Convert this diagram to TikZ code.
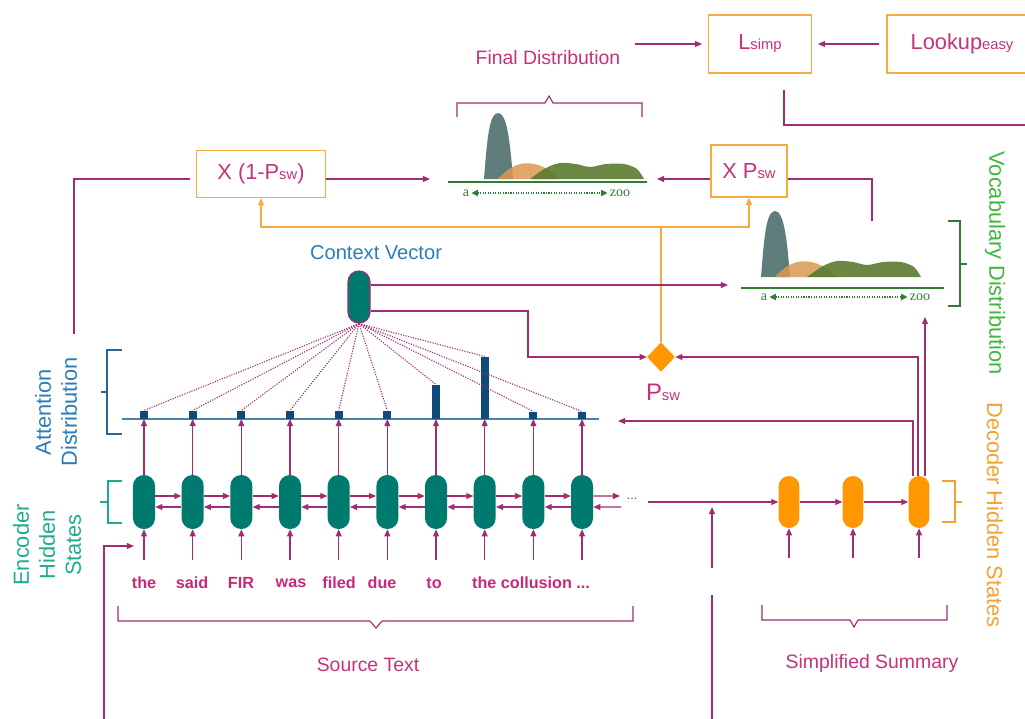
\documentclass[tikz,border=0pt]{standalone}
\usepackage{fontspec}
\setmainfont{Liberation Sans}
\newfontfamily\axisfont{Liberation Serif}
\usetikzlibrary{arrows.meta,shapes.geometric,positioning}

\definecolor{magline}{RGB}{160,45,112}
\definecolor{magtext}{RGB}{196,50,122}
\definecolor{wordmag}{RGB}{200,40,120}
\definecolor{oborder}{RGB}{247,170,62}
\definecolor{ofill}{RGB}{255,152,0}
\definecolor{encteal}{RGB}{0,122,110}
\definecolor{barnavy}{RGB}{14,74,122}
\definecolor{attline}{RGB}{74,130,165}
\definecolor{brblue}{RGB}{45,100,150}
\definecolor{lblblue}{RGB}{42,125,185}
\definecolor{lblteal}{RGB}{30,172,140}
\definecolor{lblgreen}{RGB}{62,182,62}
\definecolor{lblorange}{RGB}{247,160,50}
\definecolor{axgreen}{RGB}{46,125,50}
\definecolor{peakgrey}{RGB}{95,125,122}
\definecolor{humporange}{RGB}{218,152,80}
\definecolor{humpgreen}{RGB}{90,122,48}

\newcommand\subsw[1]{{\fontsize{10.5}{12}\selectfont #1}}

\begin{document}
\begin{tikzpicture}[x=0.025cm,y=-0.025cm,
  link/.style={magline,line width=0.8pt},
  arr/.style={link,-{Triangle[length=5pt,width=4.2pt]}},
  oarr/.style={oborder,line width=0.8pt,-{Triangle[length=5pt,width=4.2pt]}},
  obox/.style={draw=oborder,line width=1.1pt,text=magtext,inner sep=0pt,font=\fontsize{15.5}{18}\selectfont},
  enc/.style={fill=encteal,rounded corners=0.27cm,minimum width=0.55cm,minimum height=1.35cm,inner sep=0pt},
  dec/.style={fill=ofill,rounded corners=0.26cm,minimum width=0.52cm,minimum height=1.3cm,inner sep=0pt},
  attbar/.style={fill=barnavy,minimum width=0.2cm,inner sep=0pt,anchor=south},
  word/.style={text=wordmag,font=\bfseries\fontsize{11.5}{13}\selectfont},
  lbl/.style={text=magtext,font=\fontsize{13.8}{16}\selectfont},
  side/.style={font=\fontsize{15.5}{18.5}\selectfont,align=center},
  axlbl/.style={text=axgreen,font=\axisfont\fontsize{10}{11}\selectfont,inner sep=1.5pt},
  axarr/.style={axgreen,densely dotted,line width=0.8pt,{Triangle[length=4.5pt,width=4.5pt]}-{Triangle[length=4.5pt,width=4.5pt]}}]
  \useasboundingbox (0,0) rectangle (1025,718);
  \clip (0,0) rectangle (1025,718);

  \node[obox,minimum width=2.575cm,minimum height=1.45cm] (lsimp) at (760,44) {L\subsw{simp}};
  \node[obox,minimum width=3.75cm,minimum height=1.45cm] (lookup) at (962,44) {Lookup\subsw{easy}};
  \node[lbl] (fdtext) at (548,58) {Final Distribution};
  \draw[arr,shorten <=7pt,shorten >=4pt] (fdtext.east |- lsimp) -- (lsimp.west);
  \draw[arr,shorten <=5pt,shorten >=4pt] (lookup.west) -- (lsimp.east);
  \coordinate (rtend) at (1030,125);
  \draw[link] ([xshift=0.6cm,yshift=-0.4cm]lsimp.south) |- (rtend);

  \draw[link] (457,117) -- (457,103) -- (545,103) -- (549,96) -- (553,103) -- (642,103) -- (642,117);
  \foreach \ox/\oy in {484/179,761/277} {
    \begin{scope}[shift={(\ox,\oy)}]
      \fill[peakgrey] (0,0) .. controls (3,-38) and (5,-66) .. (14,-66) .. controls (23,-66) and (26,-38) .. (29,0) -- cycle;
      \fill[humporange,opacity=0.85] (14,0) .. controls (32,-21) and (54,-21) .. (76,0) -- cycle;
      \fill[humpgreen,opacity=0.9] plot[smooth] coordinates {(46,0) (62,-11) (76,-16) (92,-15) (106,-12) (122,-15) (140,-15) (153,-10) (160,0)} -- cycle;
    \end{scope}
  }
  \draw[axgreen,line width=1pt] (448,182) -- (647,182);
  \node[axlbl] (fa) at (466,193) {a};
  \node[axlbl] (fz) at (620,193) {zoo};
  \draw[axarr] (fa) -- (fz);
  \draw[axgreen,line width=1pt] (741,288) -- (944,288);
  \node[axlbl] (va) at (764,297) {a};
  \node[axlbl] (vz) at (920,297) {zoo};
  \draw[axarr] (va) -- (vz);
  \draw[axgreen,line width=0.9pt] (948,221) -- (960,221) -- (960,306) -- (948,306) (960,264) -- (967,264);

  \node[obox,minimum width=3.225cm,minimum height=1.175cm] (xone) at (261,174) {X (1-P\subsw{sw})};
  \node[obox,minimum width=1.9cm,minimum height=1.3cm] (xpsw) at (749,171) {X P\subsw{sw}};
  \coordinate (fdl) at (430,179);
  \coordinate (fdr) at (657,179);
  \coordinate (leftlow) at (74,334);
  \coordinate (vtop) at (872,221);
  \draw[link,shorten >=4pt] (leftlow) |- (xone.west |- fdl);
  \draw[arr] (xone.east |- fdl) -- (fdl);
  \draw[arr] (xpsw.west |- fdr) -- (fdr);
  \draw[link] (vtop) |- (xpsw.east |- fdl);

  \node[diamond,fill=ofill,inner sep=0pt,minimum width=0.7cm,minimum height=0.74cm] (psw) at (661,357) {};
  \node[text=magtext,font=\fontsize{17}{19}\selectfont] (pswlab) at (663,392) {P\subsw{sw}};
  \coordinate (orj) at (661,227);
  \draw[oarr] (psw.north) -- (orj) -| (xone.south);
  \draw[oarr] (orj) -| (xpsw.south);

  \node[text=lblblue,font=\fontsize{14.3}{16}\selectfont] (ctxlab) at (376,253) {Context Vector};
  \node[enc,draw=magline,line width=0.8pt,minimum height=1.3cm] (ctx) at (359,297) {};
  \coordinate (vocin) at (728,285);
  \coordinate (ctxlow) at (528,311);
  \draw[arr] (ctx.east |- vocin) -- (vocin);
  \draw[arr] (ctx.east |- ctxlow) -- (ctxlow) |- (psw.west);

  \draw[attline,line width=1.1pt] (122,419) -- (599,419);
  \foreach \h [count=\i] in {8,8,8,8,8,8,34,62,7,7} {
    \pgfmathsetmacro\xx{144+48.67*(\i-1)}
    \node[enc] (e\i) at (\xx,502) {};
    \node[attbar,minimum height=\h*0.025cm] (b\i) at (\xx,419) {};
    \coordinate (in\i) at (\xx,560);
    \draw[arr] (in\i) -- (e\i);
    \draw[arr] (e\i) -- (b\i.south);
    \draw[link,densely dotted] (ctx.south) -- (b\i.north);
  }
  \foreach \i in {1,...,9} {
    \pgfmathtruncatemacro\j{\i+1}
    \draw[arr] ([yshift=0.15cm]e\i.east) -- ([yshift=0.15cm]e\j.west);
    \draw[arr] ([yshift=-0.125cm]e\j.west) -- ([yshift=-0.125cm]e\i.east);
  }
  \coordinate (fwdend) at (620,496);
  \coordinate (bwdstart) at (621,507);
  \draw[arr] ([yshift=0.15cm]e10.east) -- (fwdend);
  \draw[arr] (bwdstart) -- ([yshift=-0.125cm]e10.east);
  \node[text=magline,font=\fontsize{9}{10}\selectfont] (dots) at (632,499) {...};

  \node[word] (w1) at (144,583) {the};
  \node[word] (w2) at (192,583) {said};
  \node[word] (w3) at (241,583) {FIR};
  \node[word] (w4) at (291,583) {was};
  \node[word] (w5) at (339,583) {filed};
  \node[word] (w6) at (382,583) {due};
  \node[word] (w7) at (434,583) {to};
  \node[word] (w8) at (531,583) {the collusion ...};
  \draw[link] (118,606) -- (118,621) -- (370,621) -- (376,628) -- (382,621) -- (633,621) -- (633,606);
  \node[lbl] (srctext) at (368,665) {Source Text};

  \node[dec] (d1) at (789,502) {};
  \node[dec] (d2) at (853,502) {};
  \node[dec] (d3) at (919,502) {};
  \coordinate (declead) at (648,502);
  \draw[arr] (declead) -- (d1.west);
  \draw[arr] (d1) -- (d2);
  \draw[arr] (d2) -- (d3);
  \foreach \k in {1,2,3}
    \draw[arr] (d\k.south) ++(0,30) -- (d\k.south);
  \draw[link] (762,605) -- (762,620) -- (850,620) -- (854,627) -- (858,620) -- (947,620) -- (947,605);
  \node[lbl] (simptext) at (872,663) {Simplified Summary};

  \coordinate (attin) at (618,421);
  \coordinate (vocup) at (925,317);
  \draw[arr] ([xshift=-0.15cm]d3.north) |- (attin);
  \draw[arr] ([xshift=-0.025cm]d3.north) |- (psw.east);
  \draw[arr] (d3.north -| vocup) -- (vocup);

  \coordinate (bot1) at (104,720);
  \coordinate (encin) at (134,546);
  \draw[arr] (bot1) |- (encin);
  \coordinate (bot2) at (712,720);
  \coordinate (gaplo) at (712,595);
  \coordinate (gaphi) at (712,568);
  \coordinate (joinpt) at (712,507);
  \draw[link] (bot2) -- (gaplo);
  \draw[arr] (gaphi) -- (joinpt);

  \draw[lblteal,line width=0.9pt] (122,481) -- (108,481) -- (108,523) -- (122,523) (108,502) -- (100,502);
  \draw[brblue,line width=0.9pt] (122,350) -- (107,350) -- (107,434) -- (122,434) (107,392) -- (101,392);
  \draw[lblorange,line width=0.9pt] (942,481) -- (955,481) -- (955,522) -- (942,522) (955,502) -- (962,502);

  \node[side,text=lblblue,rotate=90] (attlab) at (56,412) {Attention\\Distribution};
  \node[side,text=lblteal,rotate=90] (enclab) at (47,545) {Encoder\\Hidden\\States};
  \node[side,text=lblgreen,rotate=-90] (voclab) at (995,263) {Vocabulary Distribution};
  \node[side,text=lblorange,rotate=-90] (declab) at (995,515) {Decoder Hidden States};
\end{tikzpicture}
\end{document}
